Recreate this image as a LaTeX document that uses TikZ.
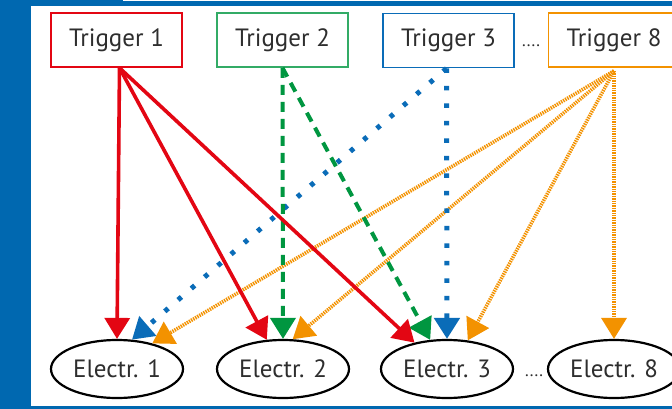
\documentclass[tikz,border=0pt]{standalone}
\usepackage{fontspec}
\setmainfont{PT Sans}
\usetikzlibrary{arrows.meta,shapes.geometric}
\definecolor{fblue}{HTML}{0068B0}
\definecolor{cred}{HTML}{E30613}
\definecolor{cgreen}{HTML}{009640}
\definecolor{cblue}{HTML}{0A6CB8}
\definecolor{corange}{HTML}{F39200}
\definecolor{txt}{HTML}{2E2E2E}
\begin{document}
\begin{tikzpicture}[x=1pt,y=-1pt,
  trig/.style={draw,line width=1.8pt,minimum width=131pt,minimum height=54pt,inner sep=0pt,
    font=\fontsize{25}{29}\selectfont,text=txt,fill=white},
  elec/.style={ellipse,draw=black,line width=2.2pt,minimum width=132pt,minimum height=58pt,
    inner sep=0pt,font=\fontsize{25}{29}\selectfont,text=txt},
  dots/.style={font=\fontsize{17}{19}\selectfont,text=txt,inner sep=0pt},
  tip/.style={-{Triangle[length=21pt,width=25pt]}},
  redarr/.style={tip,draw=cred,line width=3.6pt},
  greenarr/.style={tip,draw=cgreen,line width=4pt,dash pattern=on 10pt off 7pt},
  bluearr/.style={tip,draw=cblue,line width=5pt,dash pattern=on 4.5pt off 13pt},
  orangearr/.style={tip,draw=corange,line width=3.6pt,dash pattern=on 1.4pt off 1pt}
]
\useasboundingbox (0,0) rectangle (672,409);
\clip (0,0) rectangle (672,409);
\fill[white] (0,0) rectangle (672,409);
% frame
\fill[fblue] (0,0) rectangle (31,409);
\fill[fblue] (0,0) rectangle (123,6);
\fill[fblue] (123,1) rectangle (672,6);
\fill[fblue] (0,406) rectangle (672,409);

% trigger boxes
\node[trig,draw=cred] (t1) at (116.5,40) {Trigger 1};
\node[trig,draw=cgreen!80!white] (t2) at (282.5,40) {Trigger 2};
\node[trig,draw=cblue] (t3) at (448.5,40.5) {Trigger 3};
\node[trig,draw=corange] (t8) at (614,40) {Trigger 8};
\node[dots] (d1) at (531,46) {....};

% electrode ellipses
\node[elec] (e1) at (117,369) {Electr. 1};
\node[elec] (e2) at (283,369) {Electr. 2};
\node[elec] (e3) at (447,369) {Electr. 3};
\node[elec] (e8) at (614,369) {Electr. 8};
\node[dots] (d2) at (534,376) {....};

% orange (trigger 8)
\draw[orangearr] ([yshift=-3pt]t8.south) -- (e1.36);
\draw[orangearr] ([yshift=-3pt]t8.south) -- (e2.72);
\draw[orangearr] ([yshift=-3pt]t8.south) -- (e3.54);
\draw[orangearr] ([yshift=-3pt]t8.south) -- (e8.90);
% blue (trigger 3)
\draw[bluearr] ([xshift=-2pt]t3.south) -- (e1.63);
\draw[bluearr] ([xshift=-2pt]t3.south) -- (e3.90);
% green (trigger 2)
\draw[greenarr] (t2.south) -- (e2.90);
\draw[greenarr] (t2.south) -- (e3.120);
% red (trigger 1)
\draw[redarr] ([xshift=3pt]t1.south) -- (e1.90);
\draw[redarr] ([xshift=3pt]t1.south) -- (e2.119);
\draw[redarr] ([xshift=3pt]t1.south) -- (e3.141);
\end{tikzpicture}
\end{document}
